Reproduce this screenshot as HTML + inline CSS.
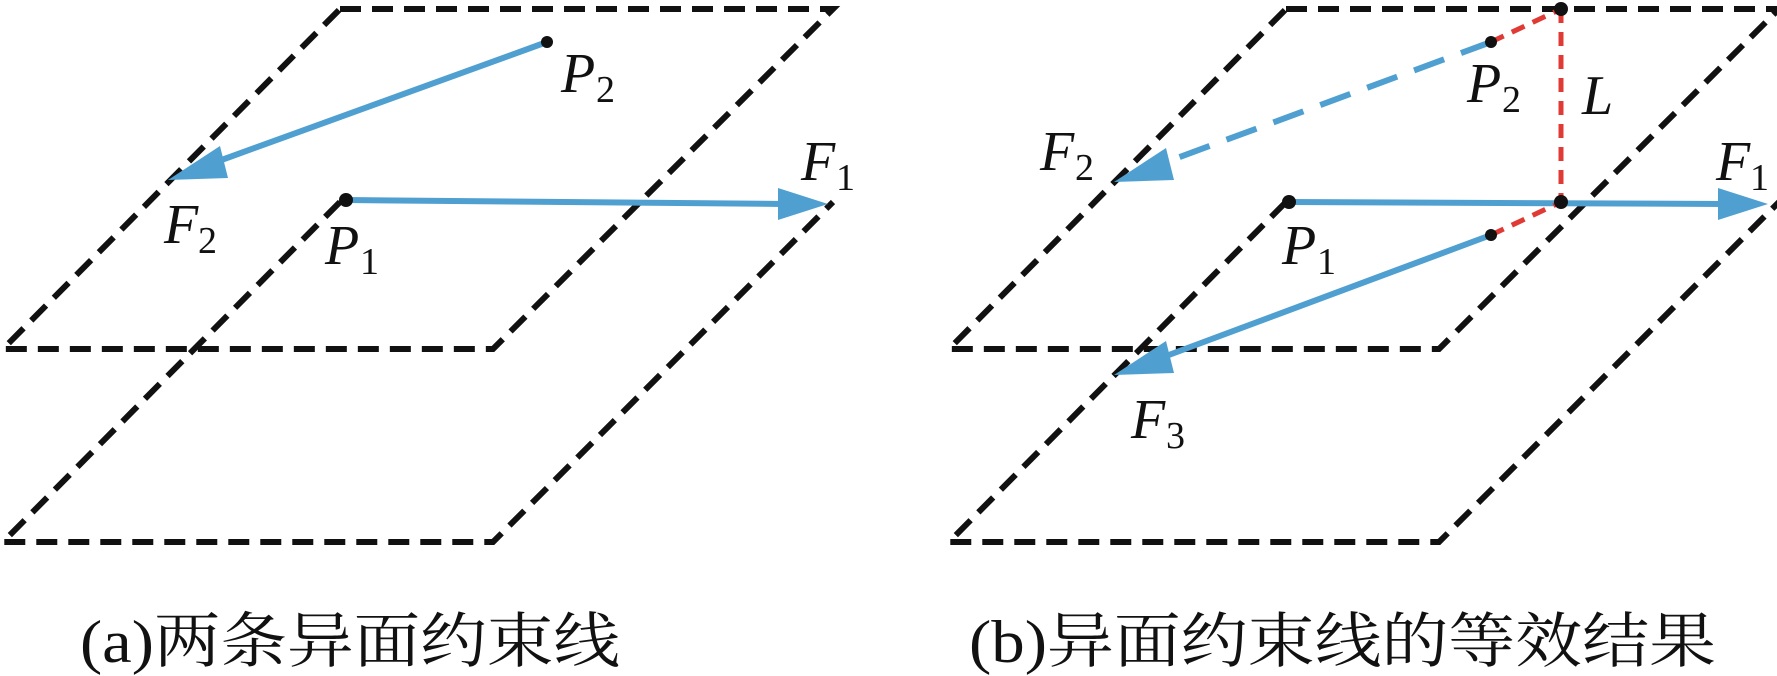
<!DOCTYPE html>
<html><head><meta charset="utf-8"><style>
html,body{margin:0;padding:0;background:#fff;}
svg{display:block;}
.d{stroke:#111;stroke-width:6;stroke-dasharray:21 11;fill:none;}
.b{stroke:#4fa0d0;stroke-width:6;fill:none;}
.r{stroke:#e03a35;stroke-width:5;stroke-dasharray:14 9;fill:none;}
.t{font-family:"Liberation Serif",serif;font-style:italic;font-size:56px;fill:#111;}
.s{font-family:"Liberation Serif",serif;font-size:38px;fill:#111;}
.c{font-family:"Liberation Serif","Noto Serif CJK SC",serif;font-size:60px;fill:#111;}
</style></head><body>
<svg width="1777" height="676" viewBox="0 0 1777 676" xmlns="http://www.w3.org/2000/svg">
<g id="L">
<polygon class="d" points="340,9 833,9 493,349 3,349"/>
<polyline class="d" points="340,202 3,542 493,542 833,202"/>
</g>
<use href="#L" x="946"/>
<!-- left arrows -->
<line class="b" x1="547" y1="42" x2="205" y2="166"/>
<polygon fill="#4fa0d0" points="168,180 220,146 228,178"/>
<line class="b" x1="346" y1="200" x2="785" y2="204"/>
<polygon fill="#4fa0d0" points="828,204 778,188 778,220"/>
<circle cx="547" cy="42" r="6" fill="#111"/>
<circle cx="346" cy="200" r="7" fill="#111"/>
<text class="t" x="561" y="92">P</text><text class="s" x="596" y="102">2</text>
<text class="t" x="164" y="243">F</text><text class="s" x="198" y="253">2</text>
<text class="t" x="325" y="264">P</text><text class="s" x="360" y="274">1</text>
<text class="t" x="801" y="180">F</text><text class="s" x="836" y="190">1</text>
<!-- right -->
<line class="b" x1="1491" y1="42" x2="1150" y2="168" stroke-dasharray="32 18"/>
<polygon fill="#4fa0d0" points="1114,182 1166,148 1174,180"/>
<line class="b" x1="1289" y1="202" x2="1725" y2="204"/>
<polygon fill="#4fa0d0" points="1768,204 1718,188 1718,220"/>
<line class="b" x1="1491" y1="235" x2="1150" y2="362"/>
<polygon fill="#4fa0d0" points="1114,375 1166,341 1174,373"/>
<line class="r" x1="1491" y1="42" x2="1561" y2="9"/>
<line class="r" x1="1561" y1="9" x2="1561" y2="202"/>
<line class="r" x1="1491" y1="235" x2="1561" y2="202"/>
<circle cx="1491" cy="42" r="6" fill="#111"/>
<circle cx="1561" cy="9" r="7" fill="#111"/>
<circle cx="1561" cy="202" r="7" fill="#111"/>
<circle cx="1491" cy="235" r="6" fill="#111"/>
<circle cx="1289" cy="202" r="7" fill="#111"/>
<text class="t" x="1467" y="102">P</text><text class="s" x="1502" y="112">2</text>
<text class="t" x="1582" y="114">L</text>
<text class="t" x="1040" y="170">F</text><text class="s" x="1075" y="180">2</text>
<text class="t" x="1282" y="264">P</text><text class="s" x="1317" y="274">1</text>
<text class="t" x="1716" y="180">F</text><text class="s" x="1750" y="190">1</text>
<text class="t" x="1131" y="438">F</text><text class="s" x="1166" y="448">3</text>
<!-- captions -->
<text class="c" x="80" y="662" textLength="540" lengthAdjust="spacingAndGlyphs">(a)两条异面约束线</text>
<text class="c" x="969" y="662" textLength="747" lengthAdjust="spacingAndGlyphs">(b)异面约束线的等效结果</text>
</svg>
</body></html>
